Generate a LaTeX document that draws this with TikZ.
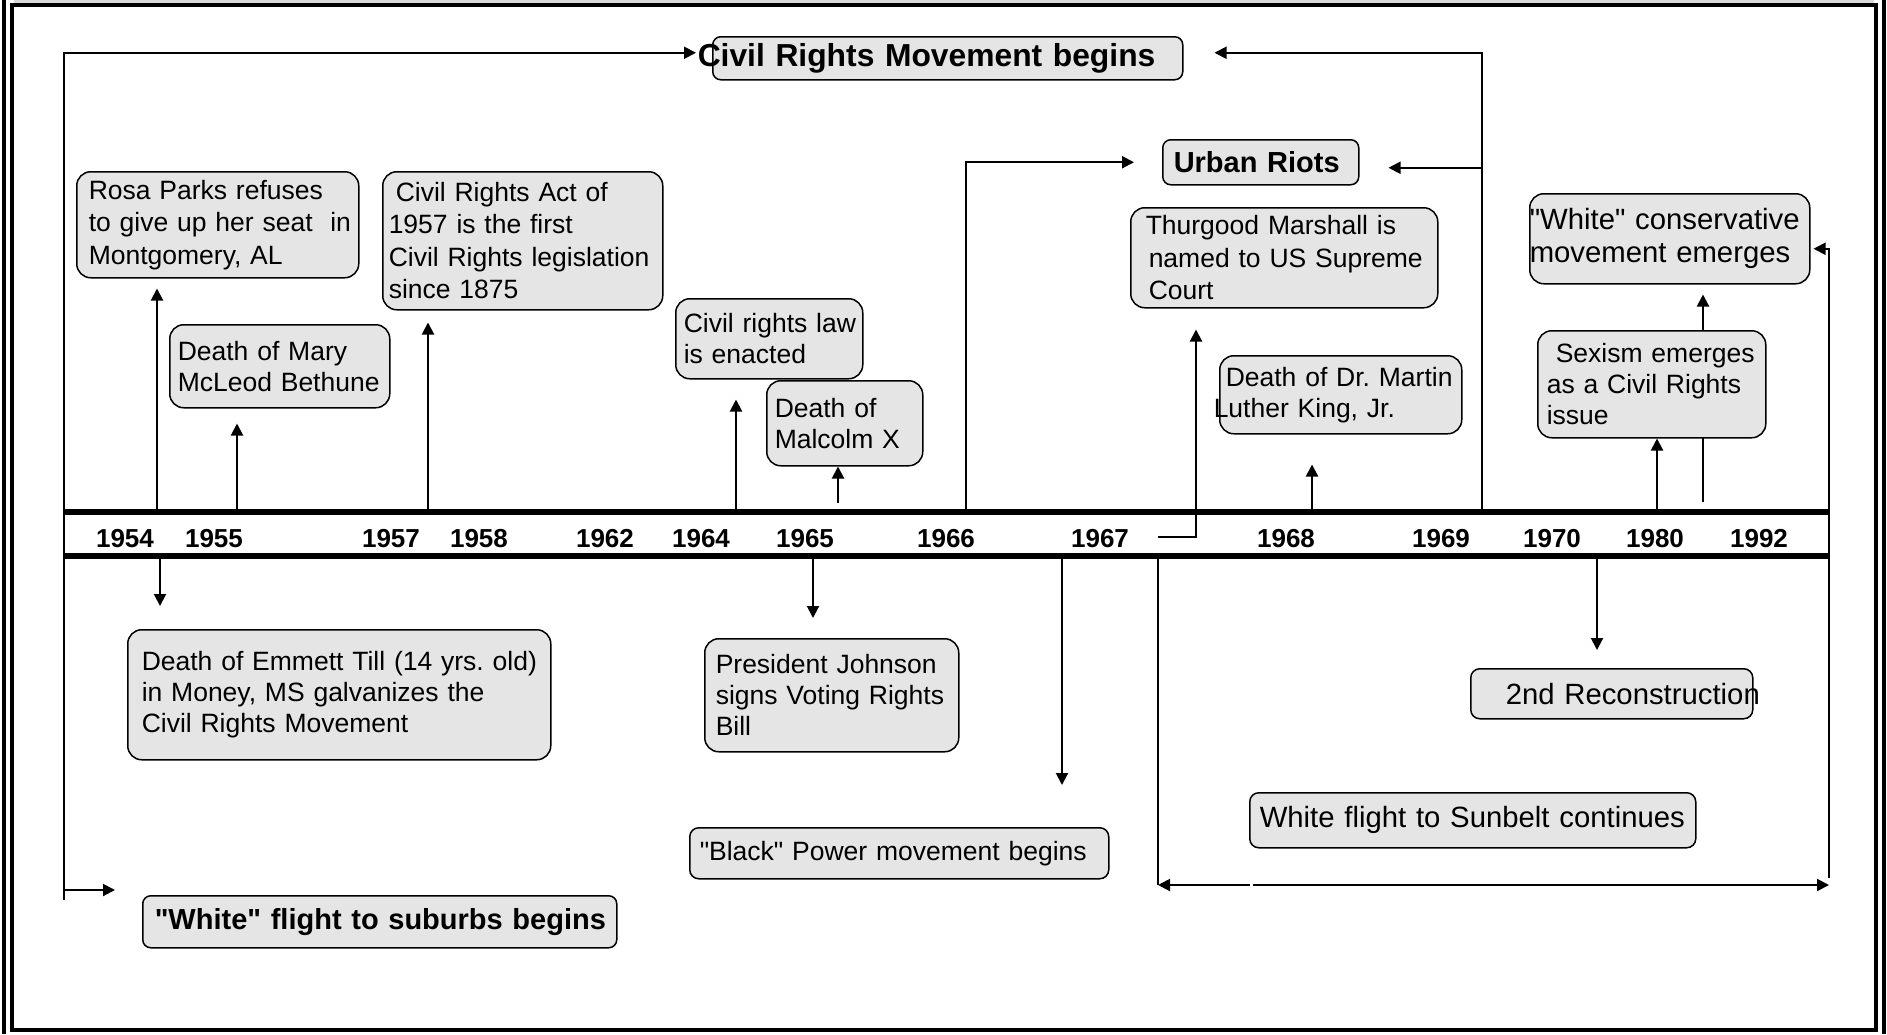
\documentclass[tikz,border=0pt]{standalone}
\usepackage{fontspec}
\setmainfont{Liberation Sans}[Ligatures=TeXOff]
\usetikzlibrary{arrows.meta}
\pgfdeclarelayer{background}
\pgfsetlayers{background,main}
\definecolor{boxgray}{RGB}{229,229,229}
\frenchspacing

\begin{document}
\begin{tikzpicture}[x=1pt,y=-1pt,
    evt/.style={draw,line width=1.5pt,fill=boxgray,rounded corners=14pt,anchor=north west,
      align=left,inner ysep=0pt,font=\fontsize{26.5}{31}\selectfont,
      execute at begin node={\hyphenpenalty=10000\rightskip=0pt minus 60pt}},
    tall/.style={font=\fontsize{26.5}{32.5}\selectfont},
    big/.style={font=\fontsize{29.3}{33}\selectfont},
    head/.style={evt,rounded corners=8pt,font=\bfseries\fontsize{29}{33}\selectfont},
    yr/.style={anchor=base,inner sep=0pt,font=\bfseries\fontsize{26}{30}\selectfont},
    conn/.style={line width=2pt,-{Triangle[length=12pt,width=12pt]}},
    bar/.style={line width=6pt}]
  \useasboundingbox (0,0) rectangle (1887,1034);

  % page frame
  \fill[gray!30] (14,0) rectangle (1874,3);
  \draw[line width=4pt] (12,5) rectangle (1876,1030);
  \draw[line width=4pt] (4,0) -- (4,1034);
  \draw[line width=4pt] (1884,0) -- (1884,1034);

  % boxes above the line
  \node[head,font=\bfseries\fontsize{31.8}{36}\selectfont,text width=470pt,inner xsep=0pt,minimum height=43pt] (title) at (712,36) {\hspace*{-15pt}Civil Rights Movement begins};
  \node[head,text width=174pt,inner xsep=11pt,minimum height=45pt] (urban) at (1162,139) {Urban Riots};
  \node[evt,tall,text width=258pt,inner xsep=12pt,minimum height=106pt] (rosa) at (76,171) {Rosa Parks refuses\\to give up her seat\ \ in\\Montgomery, AL};
  \node[evt,tall,text width=268pt,inner xsep=6pt,minimum height=138pt] (cra) at (382,171) {\hspace*{7pt}Civil Rights Act of\\1957 is the first\\Civil Rights legislation\\since 1875};
  \node[evt,text width=204pt,inner xsep=8pt,minimum height=83pt] (bethune) at (169,324) {Death of Mary\\McLeod Bethune};
  \node[evt,text width=171pt,inner xsep=8pt,minimum height=80pt] (civlaw) at (675,298) {Civil rights law\\is enacted};
  \node[evt,text width=140pt,inner xsep=8pt,minimum height=85pt] (malcolm) at (766,380) {Death of\\Malcolm X};
  \node[evt,tall,text width=277pt,inner xsep=15pt,minimum height=100pt] (thurgood) at (1130,207) {Thurgood Marshall is\\\hspace*{3pt}named to US Supreme\\\hspace*{3pt}Court};
  \node[evt,text width=230pt,inner xsep=6pt,minimum height=78pt] (mlk) at (1219,355) {Death of Dr. Martin\\\hspace*{-12pt}Luther King, Jr.};
  \node[evt,big,text width=280pt,inner xsep=0pt,minimum height=90pt] (whitecons) at (1529,193) {"White" conservative\\movement emerges};
  \node[evt,text width=210pt,inner xsep=9pt,minimum height=107pt] (sexism) at (1537,330) {\hspace*{9pt}Sexism emerges\\as a Civil Rights\\issue};

  % boxes below the line
  \node[evt,text width=395pt,inner xsep=14pt,minimum height=130pt] (emmett) at (127,629) {Death of Emmett Till (14 yrs. old)\\in Money, MS galvanizes the\\Civil Rights Movement};
  \node[evt,text width=232pt,inner xsep=11pt,minimum height=113pt] (johnson) at (704,638) {President Johnson\\signs Voting Rights\\Bill};
  \node[evt,rounded corners=9pt,text width=399pt,inner xsep=10pt,minimum height=51pt] (blackpower) at (689,827) {"Black" Power movement begins};
  \node[evt,big,rounded corners=9pt,text width=212pt,inner xsep=35pt,minimum height=50pt] (recon) at (1470,668) {\mbox{2nd Reconstruction}};
  \node[evt,big,rounded corners=9pt,text width=426pt,inner xsep=10pt,minimum height=55pt] (sunbelt) at (1249,792) {White flight to Sunbelt continues};
  \node[head,text width=450pt,inner xsep=12pt,minimum height=52pt] (suburbs) at (142,895) {"White" flight to suburbs begins};

  % time line
  \draw[bar] (64,512) -- (1830,512);
  \draw[bar] (64,556) -- (1830,556);
  \node[yr] (y1954) at (125,547) {1954};
  \node[yr] (y1955) at (214,547) {1955};
  \node[yr] (y1957) at (391,547) {1957};
  \node[yr] (y1958) at (479,547) {1958};
  \node[yr] (y1962) at (605,547) {1962};
  \node[yr] (y1964) at (701,547) {1964};
  \node[yr] (y1965) at (805,547) {1965};
  \node[yr] (y1966) at (946,547) {1966};
  \node[yr] (y1967) at (1100,547) {1967};
  \node[yr] (y1968) at (1286,547) {1968};
  \node[yr] (y1969) at (1441,547) {1969};
  \node[yr] (y1970) at (1552,547) {1970};
  \node[yr] (y1980) at (1655,547) {1980};
  \node[yr] (y1992) at (1759,547) {1992};

  \coordinate (p1954) at (157,509);
  \coordinate (p1955) at (237,509);
  \coordinate (p1957) at (428,509);
  \coordinate (p1964) at (736,509);
  \coordinate (p1965) at (838,503);
  \coordinate (p1966) at (966,509);
  \coordinate (p1967) at (1158,537);
  \coordinate (p1968) at (1312,509);
  \coordinate (p1969) at (1482,509);
  \coordinate (p1980) at (1657,509);
  \coordinate (p1992) at (1703,502);
  \coordinate (q1954) at (160,559);
  \coordinate (q1965) at (813,559);
  \coordinate (q1966) at (1062,559);
  \coordinate (q1967) at (1158,559);
  \coordinate (q1970) at (1597,559);
  \coordinate (q1992) at (1829,878);
  \coordinate (qmid) at (1251.5,885);
  \coordinate (lft) at (64,900);
  \coordinate (lsub) at (64,890);

  \begin{pgfonlayer}{background}
    \draw[conn,shorten >=10pt] (p1954) -- (rosa.south -| p1954);
    \draw[conn,shorten >=15pt] (p1955) -- (bethune.south -| p1955);
    \draw[conn,shorten >=12pt] (p1957) -- (cra.south -| p1957);
    \draw[conn,shorten >=20pt] (p1964) -- (civlaw.south -| p1964);
    \draw[conn] (p1965) -- (malcolm.south -| p1965);
    \draw[conn,shorten >=28pt] (p1966) |- (urban.west);
    \draw[conn,shorten >=21pt] (p1967) -| ([xshift=66pt]thurgood.south west);
    \draw[conn,shorten >=30pt] (p1968) -- (mlk.south -| p1968);
    \draw[conn,shorten >=31pt] (p1969) |- ([yshift=5.5pt]title.east);
    \draw[conn,shorten >=29pt] (p1969) |- ([yshift=-5.5pt]urban.east);
    \draw[conn] (p1980) -- (sexism.south -| p1980);
    \draw[conn,shorten >=10pt] (p1992) -- (whitecons.south -| p1992);
    \draw[conn,shorten >=3pt] (q1992) |- ([yshift=-10pt]whitecons.east);
    \draw[conn,shorten >=16pt] (lft) |- ([yshift=5.5pt]title.west);
    \draw[conn,shorten >=27pt] (lsub) -- (lsub -| suburbs.west);
    \draw[conn,shorten >=23pt] (q1954) -- (emmett.north -| q1954);
    \draw[conn,shorten >=20pt] (q1965) -- (johnson.north -| q1965);
    \draw[conn,shorten >=42pt] (q1966) -- (blackpower.north -| q1966);
    \draw[conn,shorten >=18pt] (q1970) -- (recon.north -| q1970);
    \draw[line width=2pt] (q1967) -- (q1967 |- qmid);
    \draw[conn] ([xshift=-1.5pt]qmid) -- (qmid -| q1967);
    \draw[conn] ([xshift=1.5pt]qmid) -- (qmid -| q1992);
  \end{pgfonlayer}
\end{tikzpicture}
\end{document}
